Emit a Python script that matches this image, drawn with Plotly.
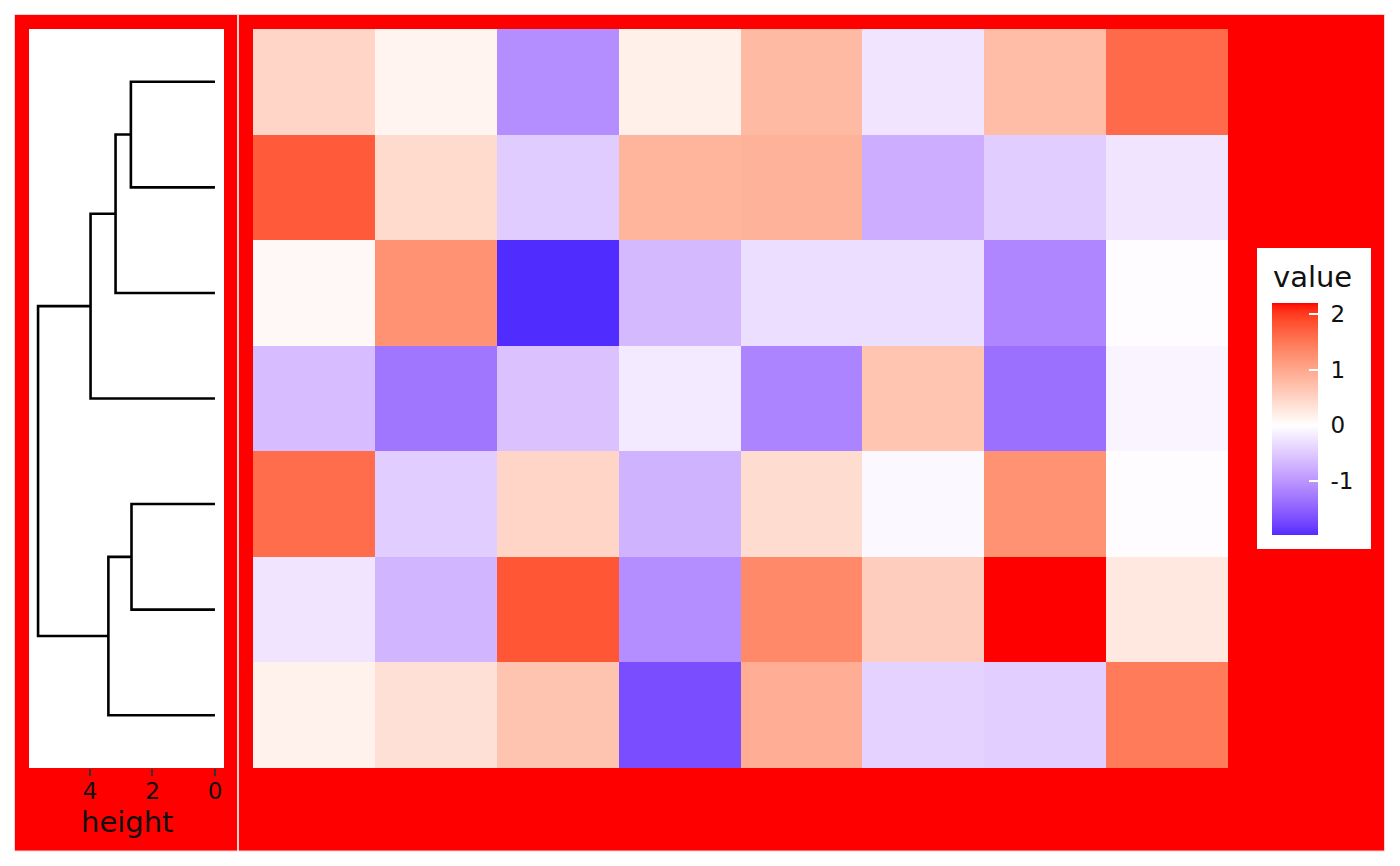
import plotly.graph_objects as go

# ---------------- data ----------------
row_ids = [1, 2, 3, 4, 5, 6, 7]          # leaf order, top to bottom
col_ids = [1, 2, 3, 4, 5, 6, 7, 8]

values = [
    [0.48, 0.13, -1.08, 0.18, 0.79, -0.25, 0.77, 1.62],
    [1.76, 0.42, -0.48, 0.86, 0.88, -0.77, -0.47, -0.25],
    [0.08, 1.23, -1.97, -0.66, -0.31, -0.31, -1.15, -0.02],
    [-0.63, -1.30, -0.57, -0.20, -1.17, 0.67, -1.36, -0.10],
    [1.60, -0.47, 0.48, -0.72, 0.40, -0.07, 1.23, -0.02],
    [-0.25, -0.70, 1.80, -1.08, 1.32, 0.57, 2.20, 0.26],
    [0.17, 0.35, 0.68, -1.68, 0.93, -0.42, -0.46, 1.46],
]

# dendrogram merges: (child a, child b, merge height); leaves are "L<i>"
merge_a = ["L1", "L5", "N1", "N2", "N3", "N5"]
merge_b = ["L2", "L6", "L3", "L7", "L4", "N4"]
merge_h = [2.69, 2.67, 3.18, 3.41, 3.98, 5.66]

height_ticks = [0, 2, 4]
legend_ticks = [-1, 0, 1, 2]
legend_tick_labels = ["-1", "0", "1", "2"]

# ---------------- colour scale (Lab interpolation like gradient2) ----------------
def srgb_to_lab(rgb):
    def lin(c):
        c = c / 255.0
        return c / 12.92 if c <= 0.04045 else ((c + 0.055) / 1.055) ** 2.4
    r, g, b = [lin(c) for c in rgb]
    X = 0.4124 * r + 0.3576 * g + 0.1805 * b
    Y = 0.2126 * r + 0.7152 * g + 0.0722 * b
    Z = 0.0193 * r + 0.1192 * g + 0.9505 * b
    Xn, Yn, Zn = 0.95047, 1.0, 1.08883
    def f(t):
        return t ** (1 / 3) if t > 216 / 24389 else (24389 / 27 * t + 16) / 116
    fx, fy, fz = f(X / Xn), f(Y / Yn), f(Z / Zn)
    return (116 * fy - 16, 500 * (fx - fy), 200 * (fy - fz))

def lab_to_srgb(lab):
    L, a, b = lab
    fy = (L + 16) / 116
    fx = fy + a / 500
    fz = fy - b / 200
    def finv(t):
        return t ** 3 if t ** 3 > 216 / 24389 else (116 * t - 16) / (24389 / 27)
    X, Y, Z = 0.95047 * finv(fx), finv(fy), 1.08883 * finv(fz)
    r = 3.2406 * X - 1.5372 * Y - 0.4986 * Z
    g = -0.9689 * X + 1.8758 * Y + 0.0415 * Z
    bb = 0.0557 * X - 0.2040 * Y + 1.0570 * Z
    def gam(c):
        c = min(max(c, 0.0), 1.0)
        c = 12.92 * c if c <= 0.0031308 else 1.055 * c ** (1 / 2.4) - 0.055
        return int(round(c * 255))
    return (gam(r), gam(g), gam(bb))

WHITE = srgb_to_lab((255, 255, 255))
RED = srgb_to_lab((255, 0, 0))
BLUE = srgb_to_lab((0, 0, 255))

flat = [v for row in values for v in row]
zmin, zmax = min(flat), max(flat)
m = max(abs(zmin), abs(zmax))

def col_for(v):
    t = abs(v) / m
    end = BLUE if v < 0 else RED
    lab = tuple(WHITE[i] + (end[i] - WHITE[i]) * t for i in range(3))
    r, g, b = lab_to_srgb(lab)
    return f"rgb({r},{g},{b})"

N = 80
colorscale = []
for k in range(N + 1):
    p = k / N
    v = zmin + p * (zmax - zmin)
    colorscale.append([p, col_for(v)])

# ---------------- dendrogram segments ----------------
pos = {f"L{i}": float(i) for i in row_ids}
hgt = {f"L{i}": 0.0 for i in row_ids}
dx, dy = [], []
for k, (a, b, h) in enumerate(zip(merge_a, merge_b, merge_h)):
    dx += [hgt[a], h, h, hgt[b], None]
    dy += [pos[a], pos[a], pos[b], pos[b], None]
    node = f"N{k + 1}"
    pos[node] = (pos[a] + pos[b]) / 2
    hgt[node] = h

# ---------------- layout helpers ----------------
W, H = 1400, 866
def px(x):
    return x / W
def py(y):
    return 1 - y / H

FONT = "DejaVu Sans"
TXT = "#111111"

fig = go.Figure()

fig.add_trace(go.Heatmap(
    z=values, x=col_ids, y=row_ids,
    zmin=zmin, zmax=zmax, colorscale=colorscale,
    xaxis="x", yaxis="y",
    colorbar=dict(
        x=px(1272), xanchor="left", xpad=0,
        y=py(419), yanchor="middle", ypad=0,
        len=232, lenmode="pixels",
        thickness=46, thicknessmode="pixels",
        outlinewidth=0,
        tickvals=legend_ticks,
        ticktext=["\u00a0" + t for t in legend_tick_labels],
        ticks="inside", tickcolor="white",
        ticklen=9, tickwidth=1.5,
        tickfont=dict(family=FONT, size=23, color=TXT),
    ),
    hoverinfo="skip",
))

fig.add_trace(go.Scatter(
    x=dx, y=dy, mode="lines", xaxis="x2", yaxis="y2",
    line=dict(color="black", width=2.6), hoverinfo="skip", showlegend=False,
))

shapes = [
    dict(type="rect", xref="paper", yref="paper", layer="below",
         x0=px(14.5), x1=px(237.5), y0=py(851), y1=py(14.5),
         fillcolor="#ff0000", line=dict(color="#ffd0d0", width=1)),
    dict(type="rect", xref="paper", yref="paper", layer="below",
         x0=px(238.5), x1=px(1384.5), y0=py(851), y1=py(14.5),
         fillcolor="#ff0000", line=dict(color="#ffd0d0", width=1)),
    dict(type="rect", xref="paper", yref="paper", layer="below",
         x0=px(29), x1=px(224), y0=py(768), y1=py(29),
         fillcolor="white", line=dict(width=0)),
    dict(type="rect", xref="paper", yref="paper", layer="below",
         x0=px(1257), x1=px(1371), y0=py(549), y1=py(248),
         fillcolor="white", line=dict(width=0)),
]

annotations = [
    dict(text="value", xref="paper", yref="paper", x=px(1271), y=py(277),
         xanchor="left", yanchor="middle", showarrow=False,
         font=dict(family=FONT, size=29, color=TXT)),
    dict(text="height", xref="paper", yref="paper", x=px(127), y=py(822),
         xanchor="center", yanchor="middle", showarrow=False,
         font=dict(family=FONT, size=29, color=TXT)),
]

fig.update_layout(
    width=W, height=H,
    margin=dict(l=0, r=0, t=0, b=0),
    paper_bgcolor="white", plot_bgcolor="rgba(0,0,0,0)",
    showlegend=False,
    font=dict(family=FONT),
    shapes=shapes, annotations=annotations,
    xaxis=dict(domain=[px(253), px(1228)], range=[0.5, 8.5], anchor="y",
               showticklabels=False, showgrid=False, zeroline=False, ticks=""),
    yaxis=dict(domain=[py(768), py(29)], range=[7.5, 0.5], anchor="x",
               showticklabels=False, showgrid=False, zeroline=False, ticks=""),
    xaxis2=dict(domain=[px(29), px(224)], range=[5.95, -0.29], anchor="y2",
                tickvals=height_ticks, ticks="outside", ticklen=7, tickwidth=2,
                tickcolor="#333333", showgrid=False, zeroline=False, showline=False,
                ticklabelstandoff=-5,
                tickfont=dict(family=FONT, size=23, color=TXT)),
    yaxis2=dict(domain=[py(768), py(29)], range=[7.5, 0.5], anchor="x2",
                showticklabels=False, showgrid=False, zeroline=False, ticks=""),
)

fig.write_html("out.html", config={"displayModeBar": False},
               post_script="document.body.style.margin='0';document.body.style.overflow='hidden';")
